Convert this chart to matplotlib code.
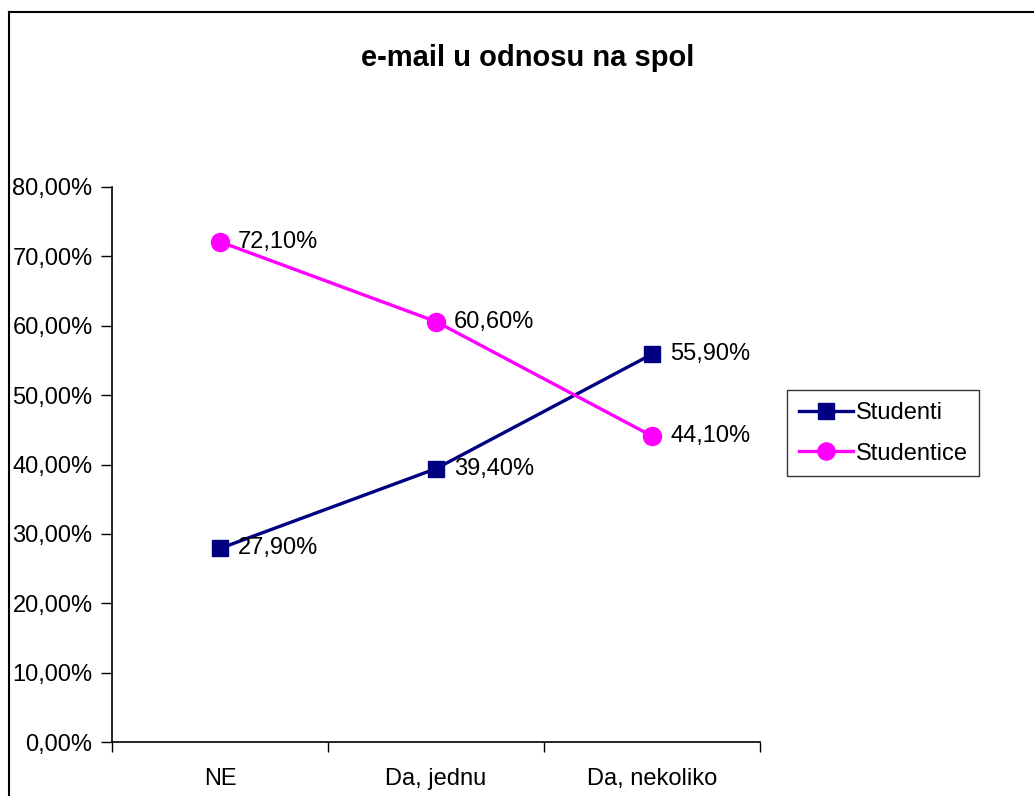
import matplotlib
matplotlib.use("Agg")
import matplotlib.pyplot as plt
from matplotlib.lines import Line2D
from matplotlib.ticker import FixedLocator, FuncFormatter

plt.rcParams['font.family'] = ['Liberation Sans', 'DejaVu Sans']

categories = ["NE", "Da, jednu", "Da, nekoliko"]
studenti = [27.9, 39.4, 55.9]
studentice = [72.1, 60.6, 44.1]
yticks = [0, 10, 20, 30, 40, 50, 60, 70, 80]

W, H = 1034, 796
FS = 17
fig = plt.figure(figsize=(W / 100, H / 100), dpi=100)
ax = fig.add_axes([112 / W, 1 - 742 / H, (760 - 112) / W, (742 - 187) / H])

x = list(range(len(categories)))
ax.plot(x, studenti, color='#000080', lw=2.4, marker='s', markersize=11.5,
        label='Studenti')
ax.plot(x, studentice, color='#FF00FF', lw=2.4, marker='o', markersize=13,
        label='Studentice')

def fmt(v):
    return f"{v:.2f}".replace('.', ',') + '%'

for xi, v in zip(x, studenti):
    ax.annotate(fmt(v), (xi, v), xytext=(13, 0), textcoords='offset points',
                va='center', ha='left', fontsize=FS)
for xi, v in zip(x, studentice):
    ax.annotate(fmt(v), (xi, v), xytext=(13, 0), textcoords='offset points',
                va='center', ha='left', fontsize=FS)

ax.set_xlim(-0.5, 2.5)
ax.set_ylim(0, 80)
ax.yaxis.set_major_locator(FixedLocator(yticks))
ax.yaxis.set_major_formatter(FuncFormatter(lambda v, p: fmt(v)))
ax.set_xticks([-0.5, 0.5, 1.5, 2.5])
ax.set_xticklabels([])
ax.set_xticks(x, minor=True)
ax.set_xticklabels(categories, minor=True)
ax.tick_params(axis='x', which='minor', length=0, pad=19, labelsize=FS)
ax.tick_params(axis='x', which='major', direction='out', length=7, width=1, color='#000000')
ax.tick_params(axis='y', direction='out', length=8, width=1, labelsize=FS, pad=6)
for s in ['top', 'right']:
    ax.spines[s].set_visible(False)
for s in ['left', 'bottom']:
    ax.spines[s].set_linewidth(1.2)

fig.text(528 / W, 1 - 66 / H, "e-mail u odnosu na spol", ha='center', va='baseline',
         fontsize=21, fontweight='bold')

leg = fig.legend(loc='upper left', bbox_to_anchor=(787 / W, 1 - 390 / H),
                 fontsize=FS, frameon=True, fancybox=False, edgecolor='black',
                 handlelength=2.3, handletextpad=0.1, borderpad=0.5,
                 labelspacing=0.8, borderaxespad=0, markerscale=0.95)
leg.get_frame().set_linewidth(1.0)

fig.add_artist(Line2D([9 / W, 9 / W], [0, 1 - 12 / H], transform=fig.transFigure,
                      color='black', lw=1.5))
fig.add_artist(Line2D([9 / W, 1], [1 - 12 / H, 1 - 12 / H], transform=fig.transFigure,
                      color='black', lw=1.5))

fig.savefig('out.png', dpi=100, facecolor='white')
